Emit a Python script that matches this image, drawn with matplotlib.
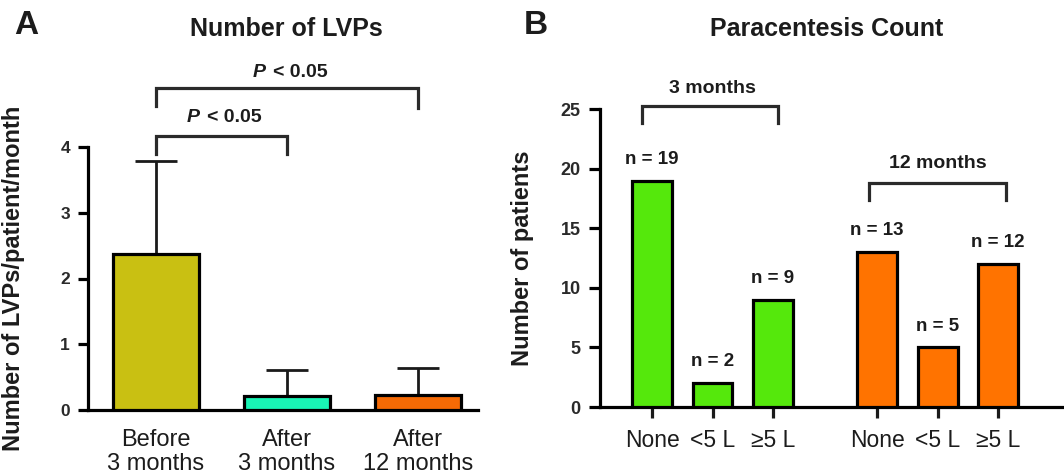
import matplotlib
matplotlib.use("Agg")
import matplotlib.pyplot as plt
import numpy as np

plt.rcParams['font.family'] = ['Liberation Sans', 'DejaVu Sans']

# ---------------- data ----------------
lvp_categories = ["Before\n3 months", "After\n3 months", "After\n12 months"]
lvp_means = [2.38, 0.21, 0.23]
lvp_err_upper = [1.40, 0.40, 0.41]
lvp_colors = ["#C9C012", "#19F5B5", "#F56A05"]
lvp_pvalue_text = "< 0.05"

para_labels = ["None", "<5 L", "\u22655 L"]
para_3m = [19, 2, 9]
para_12m = [13, 5, 12]
para_groups = ["3 months", "12 months"]
para_colors = ["#55E80C", "#FF7300"]

TXT = "#1c1c1c"
LW = 2.3

fig = plt.figure(figsize=(10.64, 4.76), dpi=100)
W, H = 1064, 476

def axpos(l, r, b, t):
    return [l / W, 1 - b / H, (r - l) / W, (b - t) / H]

# ---------------- panel A ----------------
axA = fig.add_axes(axpos(88, 478, 410, 147))
xa = np.arange(len(lvp_categories))
axA.bar(xa, lvp_means, width=0.66, color=lvp_colors, edgecolor="black",
        linewidth=LW, zorder=3)
axA.errorbar(xa, lvp_means, yerr=[np.zeros(len(xa)), lvp_err_upper], fmt="none",
             ecolor="#1a1a1a", elinewidth=2.0, capsize=15, capthick=2.0, zorder=2)
axA.set_ylim(0, 4)
axA.set_xlim(-0.52, 2.46)
axA.set_yticks([0, 1, 2, 3, 4])
axA.set_xticks(xa)
axA.set_xticklabels(lvp_categories, fontsize=17, color=TXT, linespacing=1.1)
axA.set_xticks([1], minor=True)
axA.tick_params(axis="x", which="major", length=0, pad=14)
axA.tick_params(axis="x", which="minor", length=7, width=LW, color="#1a1a1a")
axA.tick_params(axis="y", length=7, width=LW, pad=6, labelsize=12.5, labelcolor="#2a2a2a")
for lab in axA.get_yticklabels():
    lab.set_fontweight("bold")
for s in ["top", "right"]:
    axA.spines[s].set_visible(False)
for s in ["left", "bottom"]:
    axA.spines[s].set_linewidth(LW)
axA.set_ylabel("Number of LVPs/patient/month", fontsize=17, fontweight="bold", color=TXT)
axA.yaxis.set_label_coords(-0.162, 0.5)

def bracket(ax, x0, x1, ytop, yl, yr, color="#2a2a2a"):
    ax.plot([x0, x0, x1, x1], [yl, ytop, ytop, yr], color=color, lw=LW,
            clip_on=False, solid_joinstyle="miter", zorder=4)

def ptext(ax, xc, y):
    ax.annotate("P", (xc, y), xytext=(-22, 0), textcoords="offset points",
                ha="center", va="center", fontsize=14, fontweight="bold",
                fontstyle="italic", color=TXT, annotation_clip=False)
    ax.annotate(lvp_pvalue_text, (xc, y), xytext=(-12, 0), textcoords="offset points",
                ha="left", va="center", fontsize=14, fontweight="bold",
                color=TXT, annotation_clip=False)

bracket(axA, xa[0], xa[1], 4.16, 3.90, 3.90)
ptext(axA, 0.52, 4.45)
bracket(axA, xa[0], xa[2], 4.89, 4.62, 4.59)
ptext(axA, 1.02, 5.14)

# ---------------- panel B ----------------
axB = fig.add_axes(axpos(600, 1064, 407, 109))
x3 = np.arange(len(para_3m))
x12 = x3 + 3.72
axB.bar(x3, para_3m, width=0.66, color=para_colors[0], edgecolor="black",
        linewidth=LW, zorder=3)
axB.bar(x12, para_12m, width=0.66, color=para_colors[1], edgecolor="black",
        linewidth=LW, zorder=3)
for xs, vals in [(x3, para_3m), (x12, para_12m)]:
    for xx, v in zip(xs, vals):
        axB.annotate(f"n = {v}", (xx, v), xytext=(0, 12), textcoords="offset points",
                     ha="center", va="baseline", fontsize=13.5, fontweight="bold",
                     color=TXT, annotation_clip=False)
axB.set_ylim(0, 25)
axB.set_xlim(-0.86, 6.81)
axB.set_yticks([0, 5, 10, 15, 20, 25])
axB.set_xticks(np.concatenate([x3, x12]))
axB.set_xticklabels(para_labels * 2, fontsize=16.5, color=TXT)
axB.tick_params(axis="x", length=8, width=LW, pad=8, color="#1a1a1a")
axB.tick_params(axis="y", length=8, width=LW, pad=6, labelsize=13, labelcolor="#2a2a2a")
for lab in axB.get_yticklabels():
    lab.set_fontweight("bold")
for s in ["top", "right"]:
    axB.spines[s].set_visible(False)
for s in ["left", "bottom"]:
    axB.spines[s].set_linewidth(LW)
axB.set_ylabel("Number of patients", fontsize=17, fontweight="bold", color=TXT)
axB.yaxis.set_label_coords(-0.142, 0.5)

bracket(axB, x3[0] - 0.17, x3[2] + 0.08, 25.25, 23.8, 23.8)
axB.text(x3[1], 26.75, para_groups[0], ha="center", va="center", fontsize=14,
         fontweight="bold", color=TXT, clip_on=False)
bracket(axB, x12[0] - 0.13, x12[2] + 0.13, 18.8, 17.4, 17.4)
axB.text(x12[1], 20.4, para_groups[1], ha="center", va="center", fontsize=14,
         fontweight="bold", color=TXT, clip_on=False)

# ---------------- titles & panel letters ----------------
fig.text(286 / W, 1 - 29 / H, "Number of LVPs", ha="center", va="center",
         fontsize=18, fontweight="bold", color=TXT)
fig.text(827 / W, 1 - 29 / H, "Paracentesis Count", ha="center", va="center",
         fontsize=18, fontweight="bold", color=TXT)
fig.text(26 / W, 1 - 25 / H, "A", ha="center", va="center", fontsize=24,
         fontweight="bold", color=TXT)
fig.text(536 / W, 1 - 25 / H, "B", ha="center", va="center", fontsize=24,
         fontweight="bold", color=TXT)

fig.savefig("out.png", dpi=100)
